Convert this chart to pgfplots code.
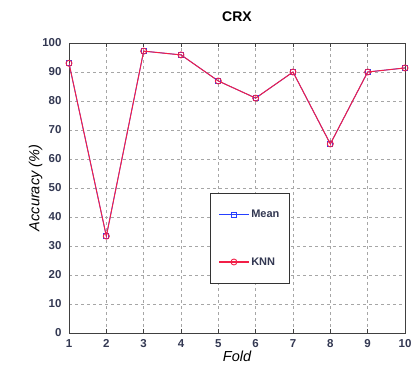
\documentclass[border=0pt]{standalone}
\usepackage{fontspec}
\setmainfont{Liberation Sans}
\usepackage{pgfplots}
\pgfplotsset{compat=1.18}
\definecolor{ticktext}{rgb}{0.20,0.22,0.32}
\definecolor{meanblue}{rgb}{0.15,0.25,1.0}
\definecolor{knnred}{rgb}{0.95,0.12,0.28}
\begin{document}
\begin{tikzpicture}
\begin{axis}[
  scale only axis,
  width=336pt, height=290pt,
  xmin=1, xmax=10, ymin=0, ymax=100,
  xtick={1,...,10},
  ytick={0,10,...,100},
  grid=major,
  major grid style={dashed, gray!70, line width=0.6pt},
  axis line style={draw=black!75, line width=1pt},
  tick style={draw=black!75, line width=0.8pt},
  major tick length=4pt,
  ytick style={draw=none},
  /pgf/number format/assume math mode=true,
  tick label style={font=\fontsize{11.5}{12}\selectfont\bfseries\color{ticktext}},
  yticklabel style={xshift=-4pt},
  xticklabel style={yshift=-3pt},
  title={\bfseries CRX},
  title style={font=\fontsize{14}{15}\selectfont, yshift=12pt},
  xlabel={\itshape Fold},
  ylabel={\itshape Accuracy (\%)},
  label style={font=\fontsize{14.5}{15}\selectfont},
  xlabel style={yshift=4pt},
  ylabel style={yshift=-7pt},
  legend cell align=left,
  legend style={
    at={(0.42,0.483)}, anchor=north west,
    draw=black!80, line width=0.9pt,
    font=\fontsize{11}{12}\selectfont\bfseries\color{ticktext},
    row sep=34pt, inner xsep=8pt, inner ysep=15pt,
  },
  legend image code/.code={%
    \draw[line width=1.1pt, mark repeat=2, mark phase=2] plot coordinates {(0cm,0cm) (0.52cm,0cm) (1.04cm,0cm)};},
]
\addplot[draw=meanblue, line width=0.8pt, mark=square, mark size=2.4pt,
  mark options={solid, draw=meanblue, line width=0.9pt}]
  coordinates {(1,93) (2,33.4) (3,97.2) (4,95.9) (5,86.9) (6,81) (7,90) (8,65.2) (9,90) (10,91.4)};
\addlegendentry{Mean}
\addplot[draw=knnred, line width=1pt, mark=o, mark size=3pt,
  mark options={solid, draw=knnred, line width=0.9pt}]
  coordinates {(1,93) (2,33.4) (3,97.2) (4,95.9) (5,86.9) (6,81) (7,90) (8,65.2) (9,90) (10,91.4)};
\addlegendentry{KNN}
\end{axis}
\pgfresetboundingbox
\path ([xshift=-69pt,yshift=-37pt]current axis.south west) rectangle ([xshift=12pt,yshift=43pt]current axis.north east);
\end{tikzpicture}
\end{document}
